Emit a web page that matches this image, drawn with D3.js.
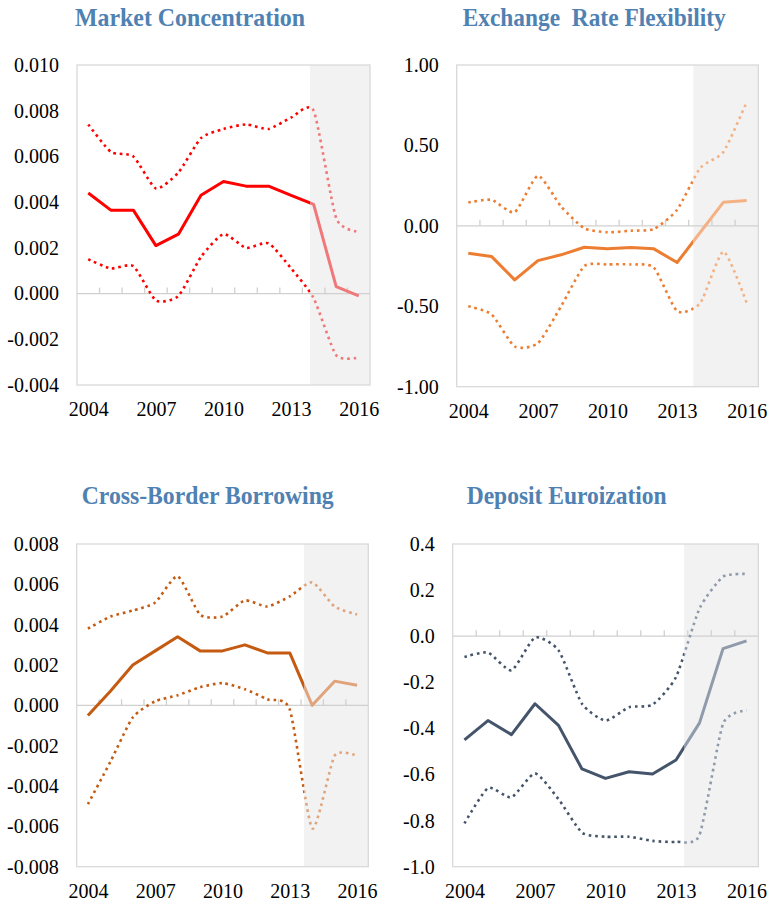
<!DOCTYPE html>
<html>
<head>
<meta charset="utf-8">
<script src="https://cdn.jsdelivr.net/npm/d3@7"></script>
<style>
  body { margin: 0; background: #fff; }
  svg { display: block; }
  text { font-family: "Times New Roman", "Liberation Serif", Tinos, "DejaVu Serif", serif; }
</style>
</head>
<body>
<div id="chart"></div>
<script>
// years on the x axis
var years = [2004, 2005, 2006, 2007, 2008, 2009, 2010, 2011, 2012, 2013, 2014, 2015, 2016];
var yearLabels = [2004, 2007, 2010, 2013, 2016];

// market concentration
var mcMid = [0.0044, 0.00365, 0.00365, 0.0021, 0.0026, 0.0043, 0.0049, 0.0047, 0.0047, 0.0043, 0.0039, 0.0003, -0.0001];
var mcHi  = [0.0074, 0.0062, 0.0060, 0.0046, 0.0053, 0.0068, 0.0072, 0.0074, 0.0072, 0.0077, 0.0080, 0.0033, 0.0027];
var mcLo  = [0.0015, 0.0011, 0.0012, -0.0003, -0.0001, 0.0016, 0.0026, 0.0020, 0.0022, 0.0011, -0.0002, -0.0027, -0.0028];

// exchange rate flexibility
var erMid = [-0.17, -0.19, -0.336, -0.216, -0.18, -0.133, -0.143, -0.135, -0.143, -0.228, -0.04, 0.147, 0.158];
var erHi  = [0.145, 0.162, 0.085, 0.311, 0.12, -0.015, -0.04, -0.03, -0.02, 0.10, 0.36, 0.46, 0.77];
var erLo  = [-0.50, -0.55, -0.75, -0.73, -0.50, -0.25, -0.24, -0.24, -0.26, -0.53, -0.48, -0.16, -0.48];

// cross-border borrowing
var cbMid = [-0.0005, 0.0007, 0.0020, 0.0027, 0.0034, 0.0027, 0.0027, 0.0030, 0.0026, 0.0026, 0.0000, 0.0012, 0.0010];
var cbHi  = [0.0038, 0.0044, 0.0047, 0.0051, 0.0064, 0.0045, 0.0044, 0.0052, 0.0049, 0.0054, 0.0061, 0.0049, 0.0045];
var cbLo  = [-0.0049, -0.0028, -0.0006, 0.0002, 0.0005, 0.0009, 0.0011, 0.0008, 0.0003, -0.0002, -0.0061, -0.0025, -0.0025];

// deposit euroization
var deMid = [-0.45, -0.366, -0.427, -0.293, -0.387, -0.576, -0.617, -0.588, -0.598, -0.537, -0.376, -0.054, -0.02];
var deHi  = [-0.09, -0.071, -0.148, -0.006, -0.061, -0.293, -0.366, -0.308, -0.297, -0.177, 0.12, 0.258, 0.27];
var deLo  = [-0.812, -0.659, -0.699, -0.595, -0.707, -0.852, -0.87, -0.87, -0.888, -0.892, -0.862, -0.38, -0.322];

var titles = ["Market Concentration", "Exchange  Rate Flexibility", "Cross-Border Borrowing", "Deposit Euroization"];
var yTicks = [
  [-0.004, -0.002, 0, 0.002, 0.004, 0.006, 0.008, 0.010],
  [-1, -0.5, 0, 0.5, 1],
  [-0.008, -0.006, -0.004, -0.002, 0, 0.002, 0.004, 0.006, 0.008],
  [-1, -0.8, -0.6, -0.4, -0.2, 0, 0.2, 0.4]
];
var yFormats = [".3f", ".2f", ".3f", ".1f"];
// shaded (projection) area starts here, in year units
var shadeFrom = [2013.84, 2013.7, 2013.63, 2013.34];

var W = 768, H = 905;
var FONT = "'Times New Roman', 'Liberation Serif', Tinos, 'DejaVu Serif', serif";
var svg = d3.select("#chart").append("svg").attr("width", W).attr("height", H);

var loc = d3.formatLocale({decimal: ".", thousands: ",", grouping: [3], currency: ["", ""], minus: "-"});

// layout of each panel (plot box + title)
var panels = [
  {x0: 77,    x1: 370,   y0: 65,  y1: 385,   tx: 75,    tw: 230, ty: 26,  mid: mcMid, hi: mcHi, lo: mcLo, dark: "#ff0000", light: "#f07878"},
  {x0: 456.7, x1: 758.3, y0: 65,  y1: 386.7, tx: 462.7, tw: 263, ty: 26,  mid: erMid, hi: erHi, lo: erLo, dark: "#ed7d31", light: "#f4b183"},
  {x0: 76.7,  x1: 368.3, y0: 544, y1: 866.7, tx: 81.7,  tw: 252, ty: 504, mid: cbMid, hi: cbHi, lo: cbLo, dark: "#c55a11", light: "#dfa47c"},
  {x0: 452.7, x1: 758.3, y0: 544, y1: 866.7, tx: 466.7, tw: 200, ty: 504, mid: deMid, hi: deHi, lo: deLo, dark: "#44546a", light: "#8f9aab"}
];

panels.forEach(function(p, k) {
  var g = svg.append("g");

  var x = d3.scaleLinear().domain([2003.5, 2016.5]).range([p.x0, p.x1]);
  var dom = d3.extent(yTicks[k]);
  var y = d3.scaleLinear().domain(dom).range([p.y1, p.y0]);
  var sx = x(shadeFrom[k]);

  // title
  g.append("text")
    .attr("x", p.tx).attr("y", p.ty)
    .attr("textLength", p.tw).attr("lengthAdjust", "spacingAndGlyphs")
    .style("white-space", "pre")
    .style("font-family", FONT)
    .style("font-size", "26px").style("font-weight", "bold")
    .attr("fill", "#4f81b2")
    .text(titles[k]);

  // shaded projection area
  g.append("rect")
    .attr("x", sx).attr("y", p.y0)
    .attr("width", p.x1 - sx).attr("height", p.y1 - p.y0)
    .attr("fill", "#f2f2f2");

  // plot frame
  g.append("rect")
    .attr("x", p.x0).attr("y", p.y0)
    .attr("width", p.x1 - p.x0).attr("height", p.y1 - p.y0)
    .attr("fill", "none").attr("stroke", "#d9d9d9").attr("stroke-width", 1.3);

  // zero line with category ticks
  g.append("line")
    .attr("x1", p.x0).attr("x2", p.x1)
    .attr("y1", y(0)).attr("y2", y(0))
    .attr("stroke", "#d0d0d0").attr("stroke-width", 1.3);
  var bounds = years.slice(0, -1).map(function(d) { return d + 0.5; });
  g.selectAll(".tk").data(bounds).enter().append("line")
    .attr("x1", function(d) { return x(d); }).attr("x2", function(d) { return x(d); })
    .attr("y1", y(0)).attr("y2", y(0) - 6)
    .attr("stroke", "#d0d0d0").attr("stroke-width", 1.3);

  // y axis labels
  var yAxis = d3.axisLeft(y).tickValues(yTicks[k]).tickSize(0).tickPadding(18)
    .tickFormat(loc.format(yFormats[k]));
  var ya = g.append("g").attr("transform", "translate(" + p.x0 + ",0)").call(yAxis);
  ya.attr("font-family", null);
  ya.select(".domain").remove();
  ya.selectAll("text").style("font-size", "20px").style("font-family", FONT).attr("fill", "#000");

  // x axis labels at the bottom
  var xAxis = d3.axisBottom(x).tickValues(yearLabels).tickSize(0).tickPadding(17).tickFormat(d3.format("d"));
  var xa = g.append("g").attr("transform", "translate(0," + p.y1 + ")").call(xAxis);
  xa.attr("font-family", null);
  xa.select(".domain").remove();
  xa.selectAll("text").style("font-size", "20px").style("font-family", FONT).attr("fill", "#000");

  // clip areas: before / inside shading
  var cl = "clipL" + k, cr = "clipR" + k;
  var defs = svg.append("defs");
  defs.append("clipPath").attr("id", cl).append("rect")
    .attr("x", 0).attr("y", 0).attr("width", sx).attr("height", H);
  defs.append("clipPath").attr("id", cr).append("rect")
    .attr("x", sx).attr("y", 0).attr("width", W - sx).attr("height", H);

  var solid = d3.line()
    .x(function(d, i) { return x(years[i]); })
    .y(function(d) { return y(d); });
  var dotted = d3.line()
    .curve(d3.curveCardinal.tension(0.4))
    .x(function(d, i) { return x(years[i]); })
    .y(function(d) { return y(d); });

  [[cl, p.dark], [cr, p.light]].forEach(function(c) {
    var lg = g.append("g").attr("clip-path", "url(#" + c[0] + ")");
    [p.hi, p.lo].forEach(function(s) {
      lg.append("path").attr("d", dotted(s))
        .attr("fill", "none").attr("stroke", c[1])
        .attr("stroke-width", 2.6).attr("stroke-dasharray", "2.6 3.8");
    });
    lg.append("path").attr("d", solid(p.mid))
      .attr("fill", "none").attr("stroke", c[1])
      .attr("stroke-width", 3).attr("stroke-linejoin", "round");
  });
});
</script>
</body>
</html>
